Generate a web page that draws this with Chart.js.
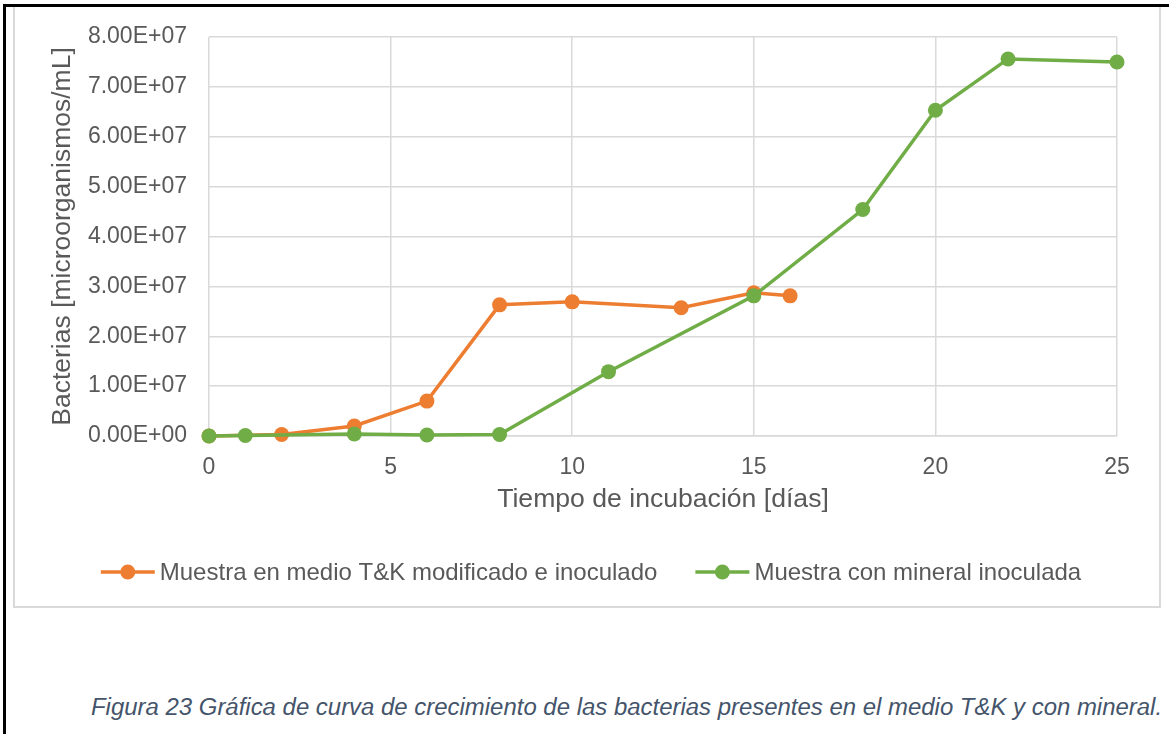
<!DOCTYPE html>
<html>
<head>
<meta charset="utf-8">
<title>Curva de crecimiento</title>
<script src="https://cdn.jsdelivr.net/npm/chart.js@4.4.1/dist/chart.umd.min.js"></script>
<style>
    html, body { margin: 0; padding: 0; background: #ffffff; }
    body { width: 1169px; height: 734px; position: relative; overflow: hidden; font-family: 'Liberation Sans', Arial, sans-serif; }
    .page-frame { position: absolute; left: 3px; top: 4px; width: 1200px; height: 800px; border-left: 3px solid #000; border-top: 3px solid #000; z-index: 2; }
    .chart-box { position: absolute; left: 13px; top: 5px; width: 1144px; height: 599px; border: 2px solid #d9d9d9; }
    .chart-box canvas { display: block; }
    .caption { position: absolute; left: 91px; top: 693px; font-style: italic; font-size: 23.95px; color: #44546a; white-space: nowrap; }
</style>
</head>
<body>
<div class="page-frame"></div>
<div class="chart-box"><canvas id="growthChart" width="1144" height="599"></canvas></div>
<div class="caption">Figura 23 Gráfica de curva de crecimiento de las bacterias presentes en el medio T&amp;K y con mineral.</div>

<script>
"use strict";

// dias de incubacion y conteos (microorganismos/mL)
var diasTK = [0, 2, 4, 6, 8, 10, 13, 15, 16];
var bacteriasTK = [0, 3e5, 2.0e6, 7.0e6, 2.63e7, 2.69e7, 2.57e7, 2.87e7, 2.81e7];

var diasMineral = [0, 1, 4, 6, 8, 11, 15, 18, 20, 22, 25];
var bacteriasMineral = [0, 1e5, 4e5, 2e5, 3e5, 1.29e7, 2.81e7, 4.54e7, 6.53e7, 7.56e7, 7.50e7];

var seriesNames = ['Muestra en medio T&K modificado e inoculado', 'Muestra con mineral inoculada'];
var seriesColors = ['#ed7d31', '#70ad47'];

var xTicks = [0, 5, 10, 15, 20, 25];
var yTicks = [0, 1e7, 2e7, 3e7, 4e7, 5e7, 6e7, 7e7, 8e7];

var TEXT_COLOR = '#595959';
var GRID_COLOR = '#d9d9d9';
var FONT = "'Liberation Sans', Arial, sans-serif";

function toPoints(xs, ys) {
    return xs.map(function (x, i) { return {x: x, y: ys[i]}; });
}

// formato tipo Excel: 8.00E+07
function formatSci(value) {
    var parts = Number(value).toExponential(2).split('e');
    var exp = parseInt(parts[1], 10);
    var sign = exp < 0 ? '-' : '+';
    var digits = String(Math.abs(exp));
    if (digits.length < 2) {
        digits = '0' + digits;
    }
    return parts[0] + 'E' + sign + digits;
}

function makeDataset(index, points, order) {
    return {
        label: seriesNames[index],
        data: points,
        borderColor: seriesColors[index],
        backgroundColor: seriesColors[index],
        borderWidth: 3.5,
        pointRadius: 7.5,
        pointHoverRadius: 7.5,
        pointBorderWidth: 0,
        pointBackgroundColor: seriesColors[index],
        tension: 0,
        clip: false,
        order: order
    };
}

// leyenda dibujada a mano, estilo Excel (linea con marcador)
var excelLegend = {
    id: 'excelLegend',
    afterDraw: function (chart) {
        var ctx = chart.ctx;
        var lineLen = 54;
        var textGap = 5;
        var itemGap = 38;
        var y = 565;
        ctx.save();
        ctx.font = '24px ' + FONT;
        var items = chart.data.datasets.map(function (ds) {
            return {label: ds.label, color: ds.borderColor, w: lineLen + textGap + ctx.measureText(ds.label).width};
        });
        var total = items.reduce(function (s, it) { return s + it.w; }, 0) + itemGap * (items.length - 1);
        var x = (chart.width - total) / 2 + 4;
        items.forEach(function (it) {
            ctx.strokeStyle = it.color;
            ctx.fillStyle = it.color;
            ctx.lineWidth = 3.5;
            ctx.beginPath();
            ctx.moveTo(x, y);
            ctx.lineTo(x + lineLen, y);
            ctx.stroke();
            ctx.beginPath();
            ctx.arc(x + lineLen / 2, y, 7.5, 0, Math.PI * 2);
            ctx.fill();
            ctx.fillStyle = TEXT_COLOR;
            ctx.textBaseline = 'middle';
            ctx.textAlign = 'left';
            ctx.fillText(it.label, x + lineLen + textGap, y + 1);
            x += it.w + itemGap;
        });
        ctx.restore();
    }
};

var ctx = document.getElementById('growthChart');

new Chart(ctx, {
    type: 'line',
    data: {
        datasets: [
            makeDataset(0, toPoints(diasTK, bacteriasTK), 1),
            makeDataset(1, toPoints(diasMineral, bacteriasMineral), 0)
        ]
    },
    options: {
        responsive: false,
        animation: false,
        events: [],
        layout: {
            padding: {top: 30, right: 42, bottom: 70, left: 0}
        },
        plugins: {
            legend: {display: false},
            tooltip: {enabled: false}
        },
        scales: {
            x: {
                type: 'linear',
                min: 0,
                max: 25,
                afterBuildTicks: function (scale) {
                    scale.ticks = xTicks.map(function (v) { return {value: v}; });
                },
                afterFit: function (scale) {
                    scale.height = 100;
                },
                grid: {color: GRID_COLOR, lineWidth: 1.5, drawTicks: false},
                border: {color: GRID_COLOR, width: 1.5},
                ticks: {
                    color: TEXT_COLOR,
                    padding: 18,
                    maxRotation: 0,
                    font: {family: FONT, size: 23}
                },
                title: {
                    display: true,
                    text: 'Tiempo de incubación [días]',
                    color: TEXT_COLOR,
                    padding: {top: 0, bottom: 20},
                    font: {family: FONT, size: 26.6}
                }
            },
            y: {
                min: 0,
                max: 8e7,
                afterBuildTicks: function (scale) {
                    scale.ticks = yTicks.map(function (v) { return {value: v}; });
                },
                afterFit: function (scale) {
                    scale.width = 194;
                    // el area del grafico la fija el padding del layout
                    scale.paddingTop = 0;
                    scale.paddingBottom = 0;
                },
                grid: {color: GRID_COLOR, lineWidth: 1.5, drawTicks: false},
                border: {display: false},
                ticks: {
                    color: TEXT_COLOR,
                    padding: 22,
                    font: {family: FONT, size: 23},
                    callback: function (value) { return formatSci(value); }
                },
                title: {
                    display: true,
                    text: 'Bacterias [microorganismos/mL]',
                    color: TEXT_COLOR,
                    padding: {top: 32, bottom: 0},
                    font: {family: FONT, size: 26.5}
                }
            }
        }
    },
    plugins: [excelLegend]
});
</script>
</body>
</html>
